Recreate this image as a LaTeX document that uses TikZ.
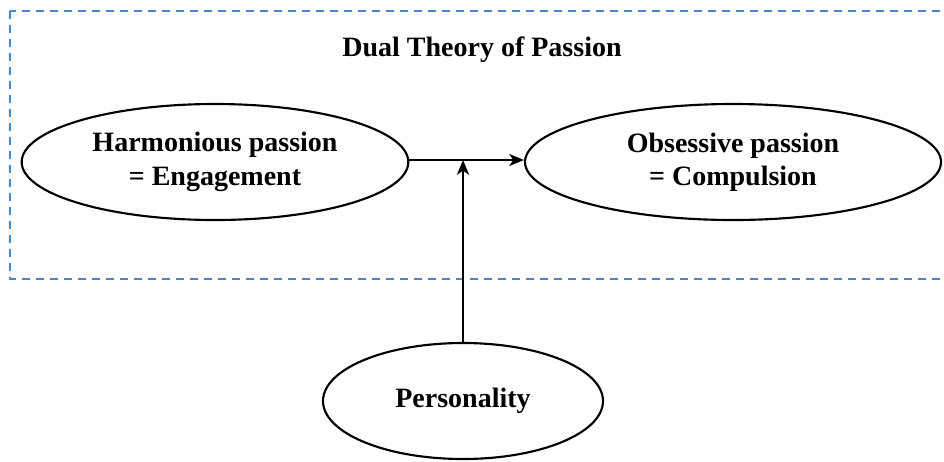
\documentclass[tikz,border=0pt]{standalone}
\usepackage{fontspec}
\setmainfont{Liberation Serif}
\usetikzlibrary{shapes.geometric, arrows.meta}
\definecolor{boxblue}{RGB}{70,135,205}

\begin{document}
\begin{tikzpicture}[x=0.75pt, y=-0.75pt,
		oval/.style={draw, ellipse, line width=1.6pt, inner sep=0pt, align=center,
			minimum height=87pt, font=\fontsize{21}{25}\selectfont\bfseries},
		link/.style={-{Stealth[length=11pt, width=9pt, inset=3pt]}}]
		\useasboundingbox (0,0) rectangle (944,461);
		
		% frame round the two passions
		\draw[boxblue, line width=1.6pt, dash pattern=on 6pt off 4.5pt] (10,11) rectangle (970,279);
		\node[font=\fontsize{21}{25}\selectfont\bfseries] (title) at (482,50) {Dual Theory of Passion};
		
		\node[oval, minimum width=290pt] (hp) at (215,162) {Harmonious passion\\= Engagement};
		\node[oval, minimum width=312pt] (op) at (733,162) {Obsessive passion\\= Compulsion};
		\node[oval, minimum width=210pt] (pers) at (463,401) {Personality};
		
		\coordinate (join) at (463,160);
		
		\draw[link, line width=1.4pt] (hp.east |- join) -- (op.west |- join);
		\draw[link, line width=2.2pt] (join |- pers.north) -- (join);
		
		\end{tikzpicture}
\end{document}
